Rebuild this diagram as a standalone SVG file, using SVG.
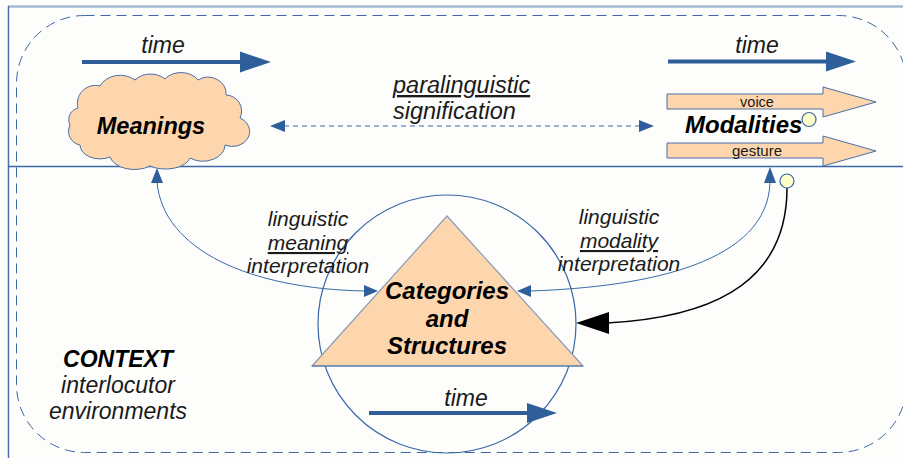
<svg xmlns="http://www.w3.org/2000/svg" width="903" height="458" viewBox="0 0 903 458">
<style>
  text { font-family: "Liberation Sans", Arial, sans-serif; fill: #1a1a1a; }
  .it { font-style: italic; }
  .bi { font-style: italic; font-weight: bold; fill: #000; }
  .peach { fill: #fdd6ae; stroke: #4a6fa5; stroke-width: 1; }
  .blue { stroke: #3a68a8; fill: none; }
  .head { fill: #2f5f9a; stroke: none; }
  .knob { fill: #ffffcc; stroke: #3a68a8; stroke-width: 1.2; }
</style>
<rect x="0" y="0" width="903" height="458" fill="#fdfdfb"/>

<g id="frame">
  <line x1="8" y1="6.5" x2="903" y2="6.5" stroke="#a7b8d2" stroke-width="2.5"/>
  <line x1="8.5" y1="6" x2="8.5" y2="458" stroke="#4a72b0" stroke-width="1.5"/>
  <rect x="16.5" y="15.5" width="890" height="437" rx="68" ry="68" fill="none" stroke="#3a68a8" stroke-width="1" stroke-dasharray="10 6"/>
  <line x1="8" y1="166.5" x2="903" y2="166.5" stroke="#3a68a8" stroke-width="1.5"/>
</g>

<g id="time-top-left">
  <line x1="82" y1="62" x2="242" y2="62" stroke="#2f5f9a" stroke-width="4"/>
  <polygon class="head" points="271,62 240,51.5 240,72.5"/>
  <text class="it" x="163" y="53" font-size="23" text-anchor="middle">time</text>
</g>

<g id="time-top-right">
  <line x1="668" y1="61.5" x2="829" y2="61.5" stroke="#2f5f9a" stroke-width="4"/>
  <polygon class="head" points="856,61.5 826,51.5 826,71.5"/>
  <text class="it" x="757" y="53" font-size="23" text-anchor="middle">time</text>
</g>

<g id="meanings">
  <path class="peach" d="M78,108 A18 18 0 0 1 100,86 A22 18 0 0 1 135,80 A20 16 0 0 1 165,79 A20 16 0 0 1 198,80 A18 16 0 0 1 226,95 A16 16 0 0 1 240,118 A16 14 0 0 1 225,145 A22 16 0 0 1 190,158 A25 14 0 0 1 150,166 A25 16 0 0 1 110,157 A20 14 0 0 1 80,145 A14 14 0 0 1 70,125 A12 12 0 0 1 78,108 Z"/>
  <text class="bi" x="151" y="134" font-size="23.5" text-anchor="middle">Meanings</text>
</g>

<g id="modalities">
  <polygon class="peach" points="667,94 823,94 823,87 876,102 823,117 823,109 667,109"/>
  <text x="757" y="107" font-size="14.5" text-anchor="middle">voice</text>
  <polygon class="peach" points="667,143 823,143 823,136 876,151 823,166 823,158 667,158"/>
  <text x="757" y="156" font-size="15" text-anchor="middle">gesture</text>
  <text class="bi" x="685" y="133" font-size="24">Modalities</text>
  <circle class="knob" cx="809" cy="119.5" r="7"/>
</g>

<g id="paralinguistic-label">
  <text class="it" x="393" y="93" font-size="23.5" text-decoration="underline">paralinguistic</text>
  <text class="it" x="393" y="119" font-size="23.5">signification</text>
</g>

<g id="categories">
  <circle cx="447" cy="324" r="129" fill="none" stroke="#3a68a8" stroke-width="1.2"/>
  <polygon points="447,216 583,366 312,366" fill="#fdd6ae" stroke="#8a9cb8" stroke-width="1.2"/>
  <line x1="312" y1="366" x2="583" y2="366" stroke="#3a68a8" stroke-width="1.2"/>
  <text class="bi" x="447" y="299" font-size="24" text-anchor="middle">Categories</text>
  <text class="bi" x="447" y="327" font-size="24" text-anchor="middle">and</text>
  <text class="bi" x="447" y="354" font-size="24" text-anchor="middle">Structures</text>
</g>

<g id="time-bottom">
  <line x1="369" y1="413" x2="530" y2="413" stroke="#2f5f9a" stroke-width="4"/>
  <polygon class="head" points="557,413 527,403 527,423"/>
  <text class="it" x="466" y="406" font-size="23" text-anchor="middle">time</text>
</g>

<g id="context">
  <text class="bi" x="118" y="367" font-size="23" text-anchor="middle">CONTEXT</text>
  <text class="it" x="118" y="393" font-size="23" text-anchor="middle">interlocutor</text>
  <text class="it" x="118" y="419" font-size="23" text-anchor="middle">environments</text>
</g>

<g id="connectors">
  <line class="blue" x1="284" y1="126" x2="640" y2="126" stroke-width="1.2" stroke-dasharray="5 4"/>
  <polygon class="head" points="270,126 285,120 285,132"/>
  <polygon class="head" points="654,126 639,120 639,132"/>

  <path class="blue" d="M157,182 C163,250 250,289 365,291" stroke-width="1"/>
  <polygon class="head" points="157,168 151,183 163,183"/>
  <polygon class="head" points="378,291 364,285 364,297"/>

  <path class="blue" d="M530,291 C650,287 768,262 770,182" stroke-width="1"/>
  <polygon class="head" points="517,291 531,285 531,297"/>
  <polygon class="head" points="770,167 764,183 776,183"/>

  <path d="M787,188 C787,290 700,318 607,323" fill="none" stroke="#000" stroke-width="1.5"/>
  <polygon points="576,323 609,312 609,334" fill="#000"/>
  <circle class="knob" cx="787" cy="181" r="7"/>
</g>

<g id="linguistic-labels">
  <text class="it" x="308" y="226" font-size="21" text-anchor="middle">linguistic</text>
  <text class="it" x="308" y="250" font-size="21" text-anchor="middle" text-decoration="underline">meaning</text>
  <text class="it" x="308" y="273" font-size="21" text-anchor="middle">interpretation</text>
  <text class="it" x="619" y="224" font-size="21" text-anchor="middle">linguistic</text>
  <text class="it" x="619" y="248" font-size="21" text-anchor="middle" text-decoration="underline">modality</text>
  <text class="it" x="619" y="271" font-size="21" text-anchor="middle">interpretation</text>
</g>
</svg>
